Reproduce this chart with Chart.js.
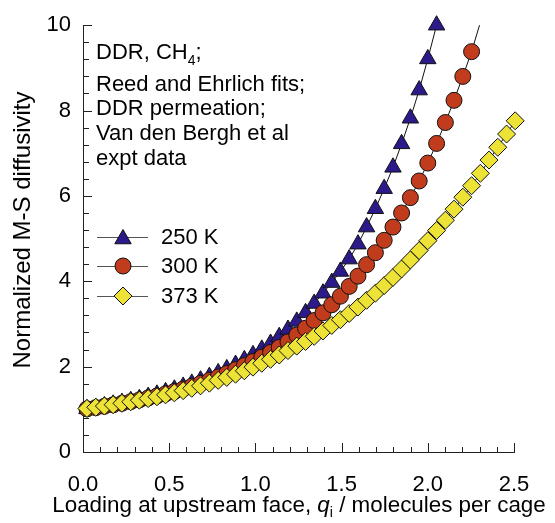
<!DOCTYPE html>
<html>
<head>
<meta charset="utf-8">
<script src="https://cdn.jsdelivr.net/npm/chart.js@4.4.1/dist/chart.umd.min.js"></script>
<style>
  html, body { margin: 0; padding: 0; background: #fff; }
  #wrap { width: 555px; height: 523px; }
</style>
</head>
<body>
<div id="wrap"><canvas id="myChart" width="555" height="523"></canvas></div>
<script>
// loading at upstream face, molecules per cage (shared grid)
var q = [0.023, 0.074, 0.124, 0.175, 0.226, 0.277, 0.327, 0.378, 0.429, 0.479,
         0.530, 0.581, 0.631, 0.682, 0.733, 0.784, 0.834, 0.885, 0.936, 0.986,
         1.037, 1.088, 1.138, 1.189, 1.240, 1.291, 1.341, 1.392, 1.443, 1.493,
         1.544, 1.595, 1.645, 1.696, 1.747, 1.798, 1.848, 1.899, 1.950, 2.000,
         2.051, 2.102, 2.152, 2.203, 2.254, 2.305, 2.355, 2.406, 2.457, 2.507];

// normalized M-S diffusivity
var d250 = [1.01, 1.043, 1.079, 1.117, 1.157, 1.201, 1.248, 1.298, 1.351, 1.409,
            1.470, 1.536, 1.607, 1.683, 1.765, 1.853, 1.947, 2.049, 2.159, 2.277,
            2.405, 2.543, 2.70, 2.87, 3.06, 3.26, 3.48, 3.72, 3.97, 4.23,
            4.52, 4.87, 5.27, 5.70, 6.17, 6.67, 7.22, 7.82, 8.48, 9.21,
            10.0];
var d300 = [1.01, 1.039, 1.071, 1.105, 1.141, 1.180, 1.221, 1.266, 1.313, 1.364,
            1.419, 1.477, 1.540, 1.607, 1.679, 1.756, 1.839, 1.928, 2.024, 2.120,
            2.22, 2.33, 2.45, 2.58, 2.74, 2.90, 3.08, 3.26, 3.45, 3.65,
            3.88, 4.12, 4.39, 4.67, 4.96, 5.27, 5.60, 5.96, 6.35, 6.77,
            7.23, 7.72, 8.24, 8.80, 9.38];
var d373 = [1.02, 1.048, 1.077, 1.108, 1.141, 1.176, 1.213, 1.252, 1.294, 1.339,
            1.387, 1.438, 1.492, 1.550, 1.612, 1.678, 1.748, 1.823, 1.903, 1.988,
            2.078, 2.172, 2.272, 2.377, 2.480, 2.590, 2.710, 2.835, 2.965, 3.10,
            3.245, 3.395, 3.555, 3.72, 3.90, 4.09, 4.29, 4.50, 4.72, 4.95,
            5.19, 5.43, 5.69, 5.97, 6.24, 6.53, 6.84, 7.14, 7.45, 7.76];

// Reed-Ehrlich fit line for 300 K runs on past the last point to the top
var fit300Q = [2.254, 2.300];
var fit300D = [9.38, 10.0];

var seriesLabels = ['250 K', '300 K', '373 K'];
var xTicks = [0, 0.5, 1.0, 1.5, 2.0, 2.5];
var yTicks = [0, 2, 4, 6, 8, 10];

var FONT = '"Liberation Sans", Arial, Helvetica, sans-serif';
var colors = ['#2c1a8a', '#c03c1c', '#ede236'];
var styles = ['triangle', 'circle', 'rectRot'];
var radii = [9.5, 8, 9];

function pts(xs, ys) {
  var out = [];
  for (var i = 0; i < ys.length; i++) out.push({x: xs[i], y: ys[i]});
  return out;
}

var decor = {
  id: 'decor',
  beforeDatasetsDraw: function(chart) {
    var ctx = chart.ctx, x = chart.scales.x, y = chart.scales.y;
    ctx.save();
    ctx.strokeStyle = '#222';
    ctx.lineWidth = 1;
    for (var k = 1; k <= 25; k++) {
      var px = Math.round(x.getPixelForValue(k / 10)) + 0.5;
      var len = (k % 5 === 0) ? 9 : 5;
      ctx.beginPath(); ctx.moveTo(px, y.bottom); ctx.lineTo(px, y.bottom - len); ctx.stroke();
    }
    for (var j = 1; j <= 25; j++) {
      var py = Math.round(y.getPixelForValue(j * 0.4)) + 0.5;
      var l2 = (j % 5 === 0) ? 9 : 6;
      ctx.beginPath(); ctx.moveTo(x.left, py); ctx.lineTo(x.left + l2, py); ctx.stroke();
    }
    ctx.restore();
  },
  afterDraw: function(chart) {
    var ctx = chart.ctx;
    ctx.save();
    ctx.fillStyle = '#000';
    ctx.textBaseline = 'alphabetic';
    ctx.textAlign = 'left';

    // note block
    var big = '22px ' + FONT;
    ctx.font = big;
    var x0 = 96;
    var t = 'DDR, CH';
    ctx.fillText(t, x0, 59);
    var w = ctx.measureText(t).width;
    ctx.font = '14px ' + FONT;
    ctx.fillText('4', x0 + w, 65);
    var w2 = ctx.measureText('4').width;
    ctx.font = big;
    ctx.fillText(';', x0 + w + w2, 59);
    ctx.fillText('Reed and Ehrlich fits;', x0, 91);
    ctx.fillText('DDR permeation;', x0, 115);
    ctx.fillText('Van den Bergh et al', x0, 140);
    ctx.fillText('expt data', x0, 165);

    // legend
    var rows = [237, 266, 296];
    for (var i = 0; i < 3; i++) {
      ctx.strokeStyle = '#555';
      ctx.lineWidth = 1;
      ctx.beginPath(); ctx.moveTo(97, rows[i] + 0.5); ctx.lineTo(148, rows[i] + 0.5); ctx.stroke();
      ctx.fillStyle = colors[i];
      ctx.strokeStyle = '#111';
      Chart.helpers.drawPoint(ctx, {pointStyle: styles[i], radius: radii[i], rotation: 0, borderWidth: 1}, 123, rows[i] + (i === 0 ? 2 : 0));
      ctx.fillStyle = '#000';
      ctx.font = big;
      ctx.textBaseline = 'middle';
      ctx.fillText(seriesLabels[i], 161, rows[i] + 1);
    }

    // x axis title with italic q and subscript i
    ctx.textBaseline = 'alphabetic';
    var parts = [
      {s: 'Loading at upstream face, ', f: '22.4px ' + FONT, dy: 0},
      {s: 'q', f: 'italic 22.4px ' + FONT, dy: 0},
      {s: 'i', f: '14px ' + FONT, dy: 5},
      {s: ' / molecules per cage', f: '22.4px ' + FONT, dy: 0}
    ];
    var total = 0;
    parts.forEach(function(p) { ctx.font = p.f; p.w = ctx.measureText(p.s).width; total += p.w; });
    var xs = 299 - total / 2;
    parts.forEach(function(p) { ctx.font = p.f; ctx.fillText(p.s, xs, 512 + p.dy); xs += p.w; });

    // y axis title
    ctx.translate(23, 230);
    ctx.rotate(-Math.PI / 2);
    ctx.font = '24px ' + FONT;
    ctx.textAlign = 'center';
    ctx.textBaseline = 'middle';
    ctx.fillText('Normalized M-S diffusivity', 0, 0);
    ctx.restore();
  }
};

var datasets = [];
// fit lines (drawn underneath markers)
var fitSets = [
  {q: q.slice(0, d250.length), d: d250},
  {q: q.slice(0, d300.length).concat(fit300Q.slice(1)), d: d300.concat(fit300D.slice(1))},
  {q: q.slice(0, d373.length), d: d373}
];
var markerData = [d250, d300, d373];

// marker sets: 373 K first so it is painted on top
for (var s = 2; s >= 0; s--) {
  datasets.push({
    label: seriesLabels[s],
    data: pts(q, markerData[s]),
    showLine: false,
    pointStyle: styles[s],
    pointRadius: radii[s],
    pointBackgroundColor: colors[s],
    pointBorderColor: '#111',
    pointBorderWidth: 1
  });
}
for (var f = 0; f < 3; f++) {
  datasets.push({
    label: 'fit ' + seriesLabels[f],
    data: pts(fitSets[f].q, fitSets[f].d),
    showLine: true,
    borderColor: '#111',
    borderWidth: 1,
    pointRadius: 0,
    fill: false
  });
}

var ctx = document.getElementById('myChart').getContext('2d');
var myChart = new Chart(ctx, {
  type: 'scatter',
  data: { datasets: datasets },
  options: {
    responsive: false,
    animation: false,
    clip: false,
    layout: { padding: { top: 20, right: 41, bottom: 0, left: 0 } },
    plugins: { legend: { display: false }, tooltip: { enabled: false } },
    scales: {
      x: {
        type: 'linear', min: 0, max: 2.5,
        afterFit: function(scale) { scale.height = 71; },
        afterBuildTicks: function(scale) { scale.ticks = xTicks.map(function(v) { return {value: v}; }); },
        grid: { display: true, drawOnChartArea: false, drawTicks: false },
        border: { display: true, color: '#222', width: 1 },
        ticks: {
          color: '#000', padding: 20,
          font: { family: FONT, size: 22 },
          callback: function(v) { return Number(v).toFixed(1); },
          maxRotation: 0, autoSkip: false
        }
      },
      y: {
        type: 'linear', min: 0, max: 10,
        afterFit: function(scale) { scale.width = 83; },
        afterBuildTicks: function(scale) { scale.ticks = yTicks.map(function(v) { return {value: v}; }); },
        grid: { display: true, drawOnChartArea: false, drawTicks: false },
        border: { display: true, color: '#222', width: 1 },
        ticks: { color: '#000', padding: 12, font: { family: FONT, size: 22 } },
        title: { display: false }
      }
    }
  },
  plugins: [decor]
});
</script>
</body>
</html>
